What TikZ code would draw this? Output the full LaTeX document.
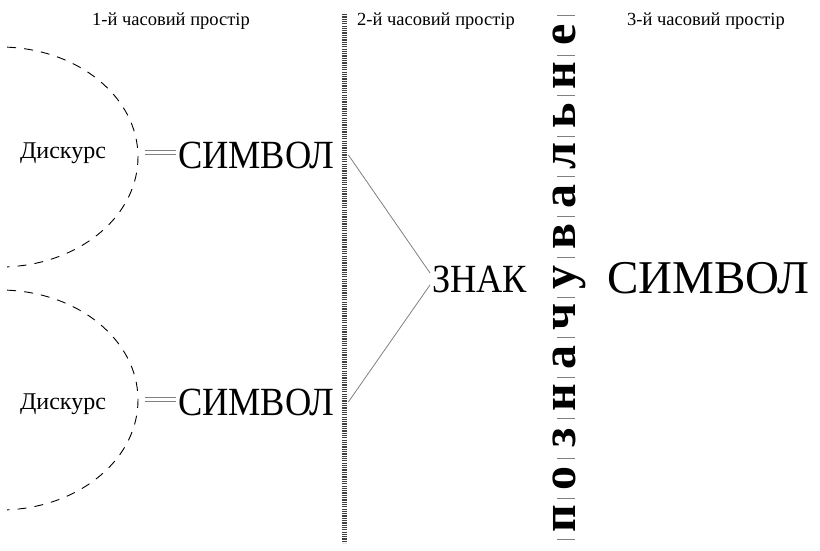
\documentclass[tikz,border=0pt]{standalone}
\usepackage{fontspec}
\setmainfont{Liberation Serif}
\usetikzlibrary{positioning, calc}

\begin{document}
\begin{tikzpicture}[x=1pt, y=-1pt,
    title/.style={anchor=base, inner sep=0pt, font=\fontsize{18.5}{18.5}\selectfont},
    disk/.style={anchor=base, inner sep=0pt, font=\fontsize{24}{24}\selectfont},
    big/.style={anchor=base west, inner sep=2pt, font=\fontsize{40}{40}\selectfont},
    letter/.style={rotate=90, anchor=base, inner sep=0pt, font=\fontsize{48}{48}\selectfont\bfseries},
    arcline/.style={line width=0.9pt, dash pattern=on 9pt off 8pt},
    eqline/.style={draw=gray, line width=0.7pt},
    link/.style={draw=gray, line width=0.8pt},
    hatch/.style={draw=black!75, line width=5pt, dash pattern=on 1.2pt off 1.1pt},
    bar/.style={draw=gray, line width=0.8pt}]
  \useasboundingbox (0,0) rectangle (820,550);

  % titles
  \node[title] (t1) at (171,25) {1-й часовий простір};
  \node[title] (t2) at (436,25) {2-й часовий простір};
  \node[title] (t3) at (706,25) {3-й часовий простір};

  % separator
  \coordinate (top) at (344.5,14);
  \coordinate (bot) at (344.5,543);
  \draw[hatch] (top) -- (bot);

  % first time space
  \draw[arcline] (0,157) ++(-87:138 and 110) arc[start angle=-87, end angle=87, x radius=138, y radius=110];
  \draw[arcline] (0,400) ++(-87:138 and 110) arc[start angle=-87, end angle=87, x radius=138, y radius=110];
  \node[disk] (d1) at (63,158) {Дискурс};
  \node[disk] (d2) at (63,409) {Дискурс};
  \node[big, xscale=0.91] (s1) at (176,168) {СИМВОЛ};
  \node[big, xscale=0.91] (s2) at (176,415) {СИМВОЛ};
  \coordinate (e1) at (145,152);
  \coordinate (e2) at (145,399);
  \coordinate (f1) at (e1 -| s1.west);
  \coordinate (f2) at (e2 -| s2.west);
  \draw[eqline] ([yshift=2pt]e1) -- ([yshift=2pt]f1);
  \draw[eqline] ([yshift=-2pt]e1) -- ([yshift=-2pt]f1);
  \draw[eqline] ([yshift=2pt]e2) -- ([yshift=2pt]f2);
  \draw[eqline] ([yshift=-2pt]e2) -- ([yshift=-2pt]f2);

  % second time space
  \node[big, xscale=0.91] (z) at (430,292) {ЗНАК};
  \draw[link] ([xshift=12pt]s1.east) -- ([yshift=6pt]z.west);
  \draw[link] ([xshift=12pt]s2.east) -- ([yshift=-6pt]z.west);

  \foreach \k in {0,...,13}
    \draw[bar] (557,{539-\k*40.3}) -- (575,{539-\k*40.3});
  \foreach \l [count=\i from 0] in {п,о,з,н,а,ч,у,в,а,л,ь,н,е}
    \node[letter] (l\i) at (575,{539-(\i+0.5)*40.3}) {\l};

  % third time space
  \node[big, font=\fontsize{47}{47}\selectfont] (s3) at (605,293) {СИМВОЛ};
\end{tikzpicture}
\end{document}
